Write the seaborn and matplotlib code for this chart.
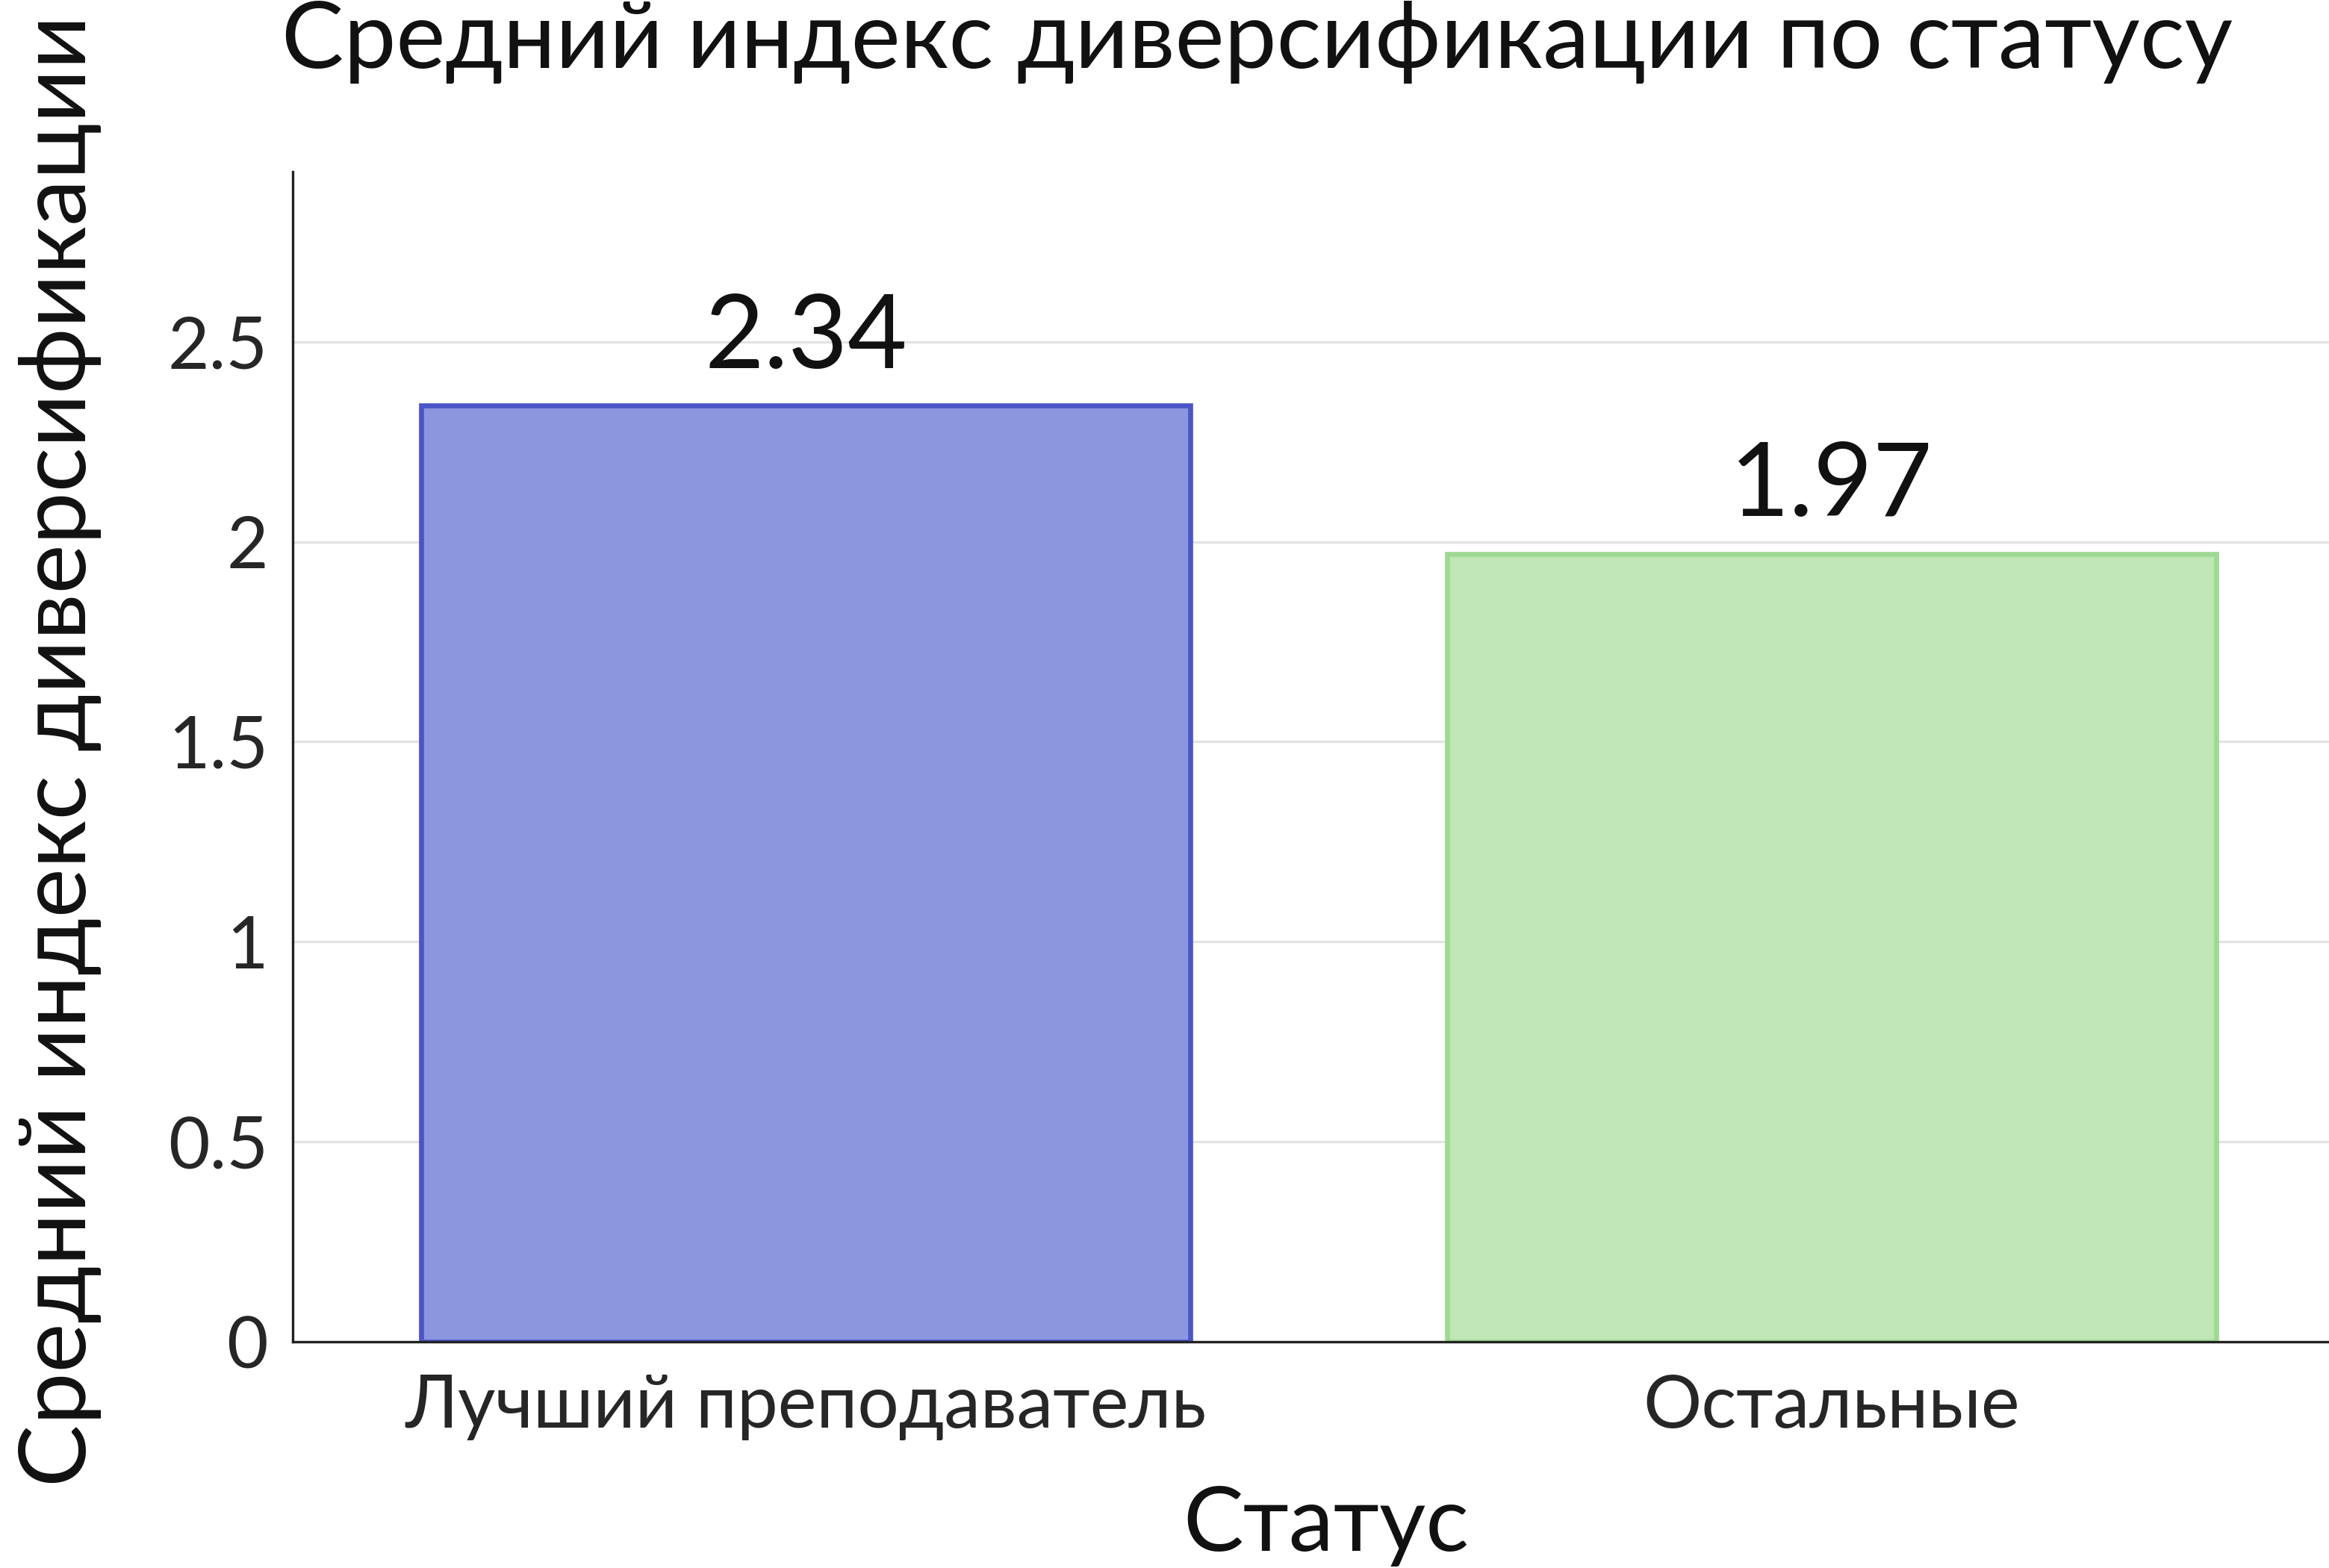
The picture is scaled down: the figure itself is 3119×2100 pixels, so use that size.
import matplotlib
matplotlib.use("Agg")
import matplotlib.pyplot as plt
import seaborn as sns
import pandas as pd

categories = ["Лучший преподаватель", "Остальные"]
values = [2.34, 1.97]
fill_colors = ["#8C96DE", "#C0E6B6"]
edge_colors = ["#4A55C8", "#9ED992"]

sns.set_theme(style="white")
plt.rcParams['font.family'] = ['Lato', 'DejaVu Sans']

df = pd.DataFrame({"Статус": categories, "val": values})

fig = plt.figure(figsize=(3119/300, 2100/300), dpi=300)
ax = fig.add_axes([392/3119, 1 - 1797/2100, 2748/3119, (1797-230)/2100])

sns.barplot(data=df, x="Статус", y="val", hue="Статус", palette=fill_colors,
            width=0.75, ax=ax, legend=False, saturation=1)
for patch, ec in zip(ax.patches, edge_colors):
    patch.set_edgecolor(ec)
    patch.set_linewidth(1.6)

ax.set_xlim(-0.5, 1.5)
ax.set_ylim(0, 2.925)
ax.set_yticks([0, 0.5, 1, 1.5, 2, 2.5])
ax.set_yticklabels(["0", "0.5", "1", "1.5", "2", "2.5"], fontsize=23)
ax.tick_params(axis='x', labelsize=23.5, pad=10, length=0)
ax.tick_params(axis='y', length=0, pad=8)
ax.yaxis.grid(True, color="#E3E3E3", linewidth=0.8)
ax.set_axisbelow(True)
for s in ["top", "right"]:
    ax.spines[s].set_visible(False)
for s in ["left", "bottom"]:
    ax.spines[s].set_color("#222222")
    ax.spines[s].set_linewidth(0.8)

for i, v in enumerate(values):
    ax.text(i, v + 0.05, f"{v:.2f}", ha="center", va="bottom", fontsize=33, color="#111111")

ax.set_xlabel("")
ax.set_ylabel("")
fig.text(1684/3119, 1 - 56/2100, "Средний индекс диверсификации по статусу",
         ha="center", va="center", fontsize=30, color="#111111")
fig.text(80/3119, 1 - 1005/2100, "Средний индекс диверсификации",
         ha="center", va="center", rotation=90, fontsize=30, color="#111111")
fig.text(1776/3119, 1 - 2044/2100, "Статус",
         ha="center", va="center", fontsize=29, color="#111111")

fig.savefig("out.png", dpi=300)
